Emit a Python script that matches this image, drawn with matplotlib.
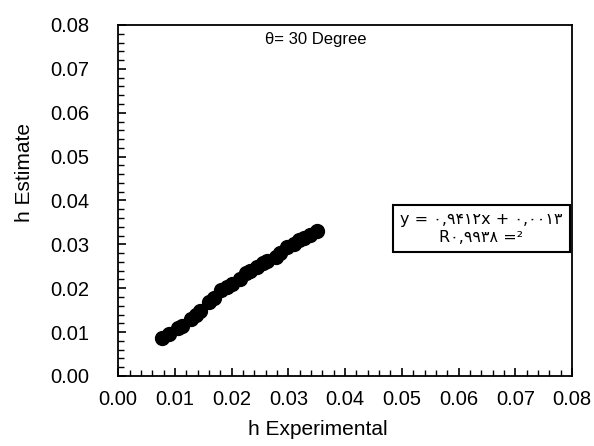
"""h estimate vs h experimental, theta = 30 degree."""

import matplotlib

matplotlib.use("Agg")

import matplotlib.pyplot as plt
from matplotlib.ticker import MultipleLocator

plt.rcParams["font.family"] = ["Liberation Sans", "DejaVu Sans"]

h_experimental = [0.0078, 0.0090, 0.0105, 0.0112, 0.0128, 0.0138, 0.0145, 0.0160,
                  0.0168, 0.0182, 0.0192, 0.0200, 0.0215, 0.0225, 0.0232, 0.0245,
                  0.0255, 0.0262, 0.0278, 0.0285, 0.0298, 0.0310, 0.0318, 0.0328,
                  0.0338, 0.0351]
h_estimate = [0.0087, 0.0095, 0.0110, 0.0115, 0.0130, 0.0140, 0.0148, 0.0168,
              0.0178, 0.0195, 0.0203, 0.0210, 0.0222, 0.0235, 0.0240, 0.0248,
              0.0258, 0.0262, 0.0272, 0.0280, 0.0295, 0.0300, 0.0310, 0.0315,
              0.0322, 0.0331]
tick_values = [0.00, 0.01, 0.02, 0.03, 0.04, 0.05, 0.06, 0.07, 0.08]
equation_text = "y = ۰,۹۴۱۲x + ۰,۰۰۱۳\nR۰,۹۹۳۸ =²"
title_text = "θ= 30 Degree"

fig = plt.figure(figsize=(5.94, 4.46), dpi=100)
ax = fig.add_axes([0.199, 0.157, 0.764, 0.787])

ax.plot(h_experimental, h_estimate, "o", color="black", markersize=10, zorder=3)

ax.set_xlim(0, 0.08)
ax.set_ylim(0, 0.08)
ax.set_xticks(tick_values)
ax.set_yticks(tick_values)
ax.set_xticklabels([f"{v:.2f}" for v in tick_values])
ax.set_yticklabels([f"{v:.2f}" for v in tick_values])
ax.xaxis.set_minor_locator(MultipleLocator(0.002))
ax.yaxis.set_minor_locator(MultipleLocator(0.002))
ax.tick_params(which="major", direction="in", length=6, width=1.2, labelsize=14.5)
ax.tick_params(which="minor", direction="in", length=4, width=1.0)
ax.tick_params(axis="x", which="major", pad=10)
ax.tick_params(axis="y", which="major", pad=21)
for spine in ax.spines.values():
    spine.set_linewidth(1.3)

ax.set_xlabel("h Experimental", fontsize=15)
ax.set_ylabel("h Estimate", fontsize=15)
ax.xaxis.set_label_coords(0.44, -0.125)
ax.yaxis.set_label_coords(-0.185, 0.58)

ax.text(0.436, 0.96, title_text, transform=ax.transAxes, ha="center", va="center",
        fontsize=12)
ax.text(0.80, 0.42, equation_text, transform=ax.transAxes, ha="center", va="center",
        fontsize=11.5, family=["DejaVu Sans"], linespacing=1.2,
        bbox=dict(boxstyle="square,pad=0.45", facecolor="white", edgecolor="black",
                  linewidth=1.5))

fig.savefig("out.png", dpi=100)
